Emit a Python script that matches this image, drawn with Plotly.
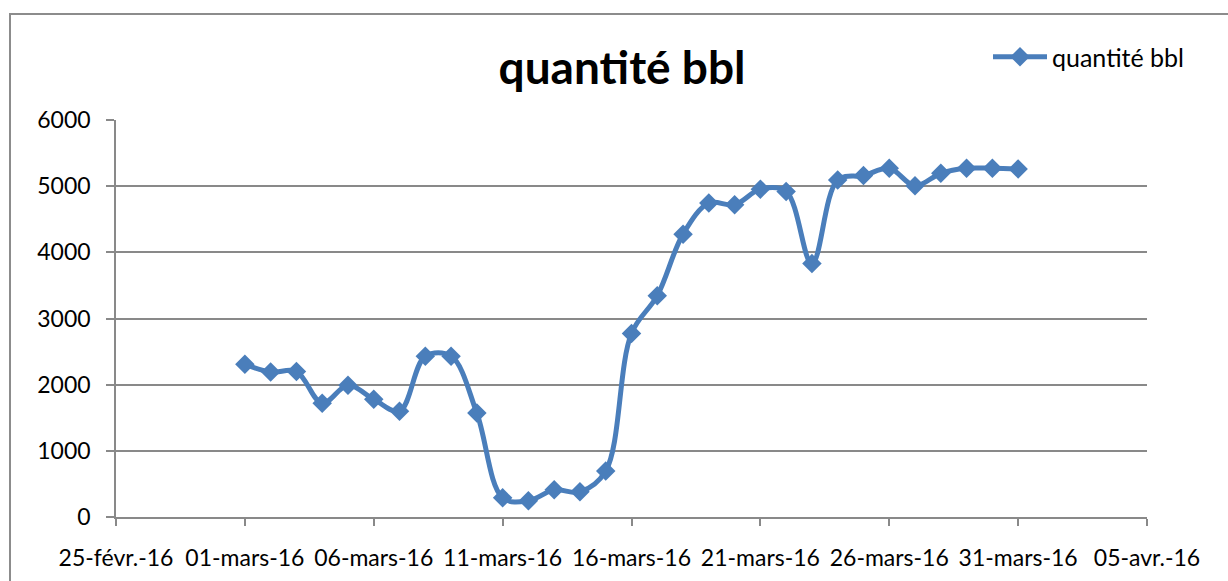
import plotly.graph_objects as go

dates = ["2016-03-%02d" % d for d in range(1, 32)]
values = [2310, 2190, 2200, 1720, 1990, 1780, 1600, 2430, 2430, 1570,
          290, 245, 410, 380, 695, 2775, 3345, 4275, 4745, 4720,
          4955, 4920, 3830, 5095, 5160, 5270, 5005, 5195, 5270, 5270, 5260]
series_name = "quantité bbl"
tick_dates = ["2016-02-25", "2016-03-01", "2016-03-06", "2016-03-11", "2016-03-16",
              "2016-03-21", "2016-03-26", "2016-03-31", "2016-04-05"]
tick_labels = ["25-févr.-16", "01-mars-16", "06-mars-16", "11-mars-16", "16-mars-16",
               "21-mars-16", "26-mars-16", "31-mars-16", "05-avr.-16"]
y_ticks = [0, 1000, 2000, 3000, 4000, 5000, 6000]

BLUE = "#4A7EBB"
GRAY = "#898989"
FONT = "Lato"

fig = go.Figure()
fig.add_trace(go.Scatter(
    x=dates, y=values, name=series_name, mode="lines+markers",
    line=dict(color=BLUE, width=5, shape="spline", smoothing=1),
    marker=dict(symbol="diamond", size=15, color=BLUE),
))

W, H = 1228, 581
L, R, T, B = 116, 81, 120, 64
pw, ph = W - L - R, H - T - B

def px_x(x):
    return (x - L) / pw

def px_y(y):
    return 1 + (T - y) / ph

fig.update_layout(
    width=W, height=H,
    margin=dict(l=L, r=R, t=T, b=B, autoexpand=False),
    paper_bgcolor="white", plot_bgcolor="white",
    font=dict(family=FONT, size=23, color="black"),
    title=dict(text="<b>quantité bbl</b>", font=dict(family=FONT, size=46, color="black"),
               x=622 / W, xanchor="center", xref="container",
               y=1 - 68 / H, yanchor="middle", yref="container"),
    showlegend=True,
    legend=dict(x=px_x(988), y=px_y(57), xanchor="left", yanchor="middle",
                itemwidth=54,
                font=dict(family=FONT, size=25, color="black"),
                bgcolor="rgba(0,0,0,0)", borderwidth=0),
    xaxis=dict(type="date", range=["2016-02-25", "2016-04-05"],
               tickvals=tick_dates, ticktext=tick_labels, automargin=False,
               showline=True, linecolor=GRAY, linewidth=1.5,
               ticks="outside", ticklen=7, tickcolor=GRAY, tickwidth=1.5,
               showgrid=False, zeroline=False, ticklabelstandoff=13,
               tickfont=dict(family=FONT, size=23, color="black")),
    yaxis=dict(range=[0, 6000], tickvals=y_ticks, automargin=False,
               showline=True, linecolor=GRAY, linewidth=1.5,
               ticks="outside", ticklen=8, tickcolor=GRAY, tickwidth=1.5,
               showgrid=True, gridcolor=GRAY, gridwidth=1.5, zeroline=False,
               ticklabelstandoff=11,
               tickfont=dict(family=FONT, size=23, color="black")),
    shapes=[dict(type="rect", xref="paper", yref="paper",
                 x0=px_x(10), x1=1.3, y0=-0.5, y1=px_y(14),
                 line=dict(color="#8C8C8C", width=2), fillcolor="rgba(0,0,0,0)",
                 layer="below")],
)

fig.write_html("out.html", config={"displayModeBar": False},
               post_script="document.body.style.margin='0';")
